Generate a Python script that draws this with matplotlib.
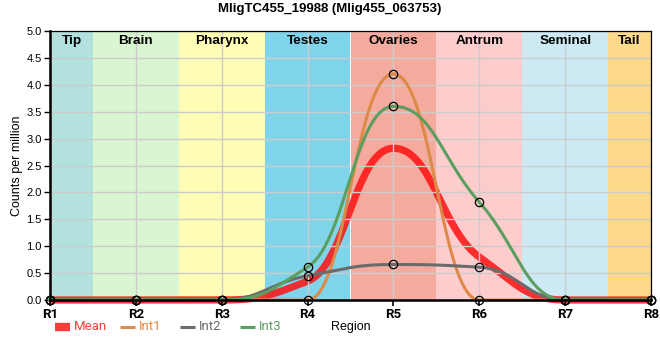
import numpy as np
import matplotlib
matplotlib.use("Agg")
import matplotlib.pyplot as plt
from matplotlib.lines import Line2D

# expression of MligTC455_19988 along the body regions
regions = ["R1", "R2", "R3", "R4", "R5", "R6", "R7", "R8"]
mean = [0, 0, 0, 0.35, 2.82, 0.8, 0, 0]
int1 = [0, 0, 0, 0, 4.2, 0, 0, 0]
int2 = [0, 0, 0, 0.45, 0.66, 0.61, 0, 0]
int3 = [0, 0, 0, 0.61, 3.6, 1.82, 0, 0]

band_names = ["Tip", "Brain", "Pharynx", "Testes", "Ovaries", "Antrum", "Seminal", "Tail"]
band_edges = [1, 1.5, 2.5, 3.5, 4.5, 5.5, 6.5, 7.5, 8]
band_colors = ["#b3e2de", "#d9f6d1", "#fdfdb5", "#7fd4ea", "#f4ab9d",
               "#fdcccc", "#cdeaf4", "#fcd98b"]


def smooth(y, a=0.45, n=80):
    # monotone-ish bezier through the points (pchip slopes, long handles)
    y = np.asarray(y, float)
    x = np.arange(1, len(y) + 1, dtype=float)
    d = np.diff(y)
    m = np.zeros_like(y)
    for k in range(1, len(y) - 1):
        if d[k - 1] * d[k] > 0:
            m[k] = 2.0 / (1.0 / d[k - 1] + 1.0 / d[k])
    s = np.linspace(0, 1, n)
    b0 = (1 - s) ** 3
    b1 = 3 * (1 - s) ** 2 * s
    b2 = 3 * (1 - s) * s ** 2
    b3 = s ** 3
    xs, ys = [], []
    for i in range(len(y) - 1):
        px = [x[i], x[i] + a, x[i + 1] - a, x[i + 1]]
        py = [y[i], y[i] + a * m[i], y[i + 1] - a * m[i + 1], y[i + 1]]
        xs.append(b0 * px[0] + b1 * px[1] + b2 * px[2] + b3 * px[3])
        ys.append(b0 * py[0] + b1 * py[1] + b2 * py[2] + b3 * py[3])
    return np.concatenate(xs), np.concatenate(ys)


fig = plt.figure(figsize=(6.6, 3.6), dpi=100)
ax = fig.add_axes([50 / 660, 1 - 300 / 360, 601 / 660, 269 / 360])

for i in range(len(band_names)):
    ax.axvspan(band_edges[i], band_edges[i + 1], color=band_colors[i], lw=0, zorder=0)
    ax.text((band_edges[i] + band_edges[i + 1]) / 2, 0.985, band_names[i],
            transform=ax.get_xaxis_transform(), ha="center", va="top",
            fontsize=9.7, fontweight="bold", family="Liberation Sans", zorder=3)

ax.grid(True, color="#cccccc", lw=1.0, zorder=1)
ax.set_axisbelow(False)
for gl in ax.get_xgridlines() + ax.get_ygridlines():
    gl.set_zorder(1)

xpos = np.arange(1, len(regions) + 1)

mx, my = smooth(mean)
ax.plot(mx, my, color="#ff1111", alpha=0.85, lw=5.2, zorder=2, clip_on=False,
        solid_capstyle="butt")

series = [(int1, "#dd8a48"), (int2, "#6b6b6b"), (int3, "#5c9e60")]
for vals, col in series:
    sx, sy = smooth(vals)
    ax.plot(sx, sy, color=col, lw=2.2, zorder=3, clip_on=False)
for vals, col in series:
    ax.plot(xpos, vals, "o", ms=6, mfc="none", mec="black", mew=0.9,
            zorder=6, clip_on=False)

ax.set_xlim(1, 8)
ax.set_ylim(0, 5)
ax.set_xticks(xpos)
ax.set_xticklabels(regions, fontsize=9.5, fontweight="bold", family="Roboto")
ax.set_yticks(np.arange(0, 5.01, 0.5))
ax.set_yticklabels(["%.1f" % v for v in np.arange(0, 5.01, 0.5)],
                   fontsize=8, family="Liberation Sans")
ax.tick_params(axis="x", direction="out", length=4, width=1.2, pad=2)
ax.tick_params(axis="y", direction="out", length=4, width=1.0, pad=2)

for side in ["left", "bottom"]:
    ax.spines[side].set_linewidth(1.8)
    ax.spines[side].set_zorder(5)
for side in ["top", "right"]:
    ax.spines[side].set_linewidth(0.9)
    ax.spines[side].set_zorder(5)

ax.set_ylabel("Counts per million", fontsize=9, family="Liberation Sans")
ax.yaxis.set_label_coords((17 - 50) / 601, 0.5)
ax.yaxis.label.set_va("center")
ax.set_xlabel("Region", fontsize=9, family="Liberation Sans")
ax.xaxis.set_label_coords(0.5, (300 - 327) / 269)
ax.xaxis.label.set_va("center")

fig.text(0.5, 1 - 9 / 360, "MligTC455_19988 (Mlig455_063753)", ha="center",
         va="center", fontsize=9.5, fontweight="bold", family="Liberation Sans")

# legend under the axes
leg_items = [("Mean", "#ff3b3b", 6.0, 55), ("Int1", "#dd8a48", 2.2, 120),
             ("Int2", "#6b6b6b", 2.2, 180), ("Int3", "#5c9e60", 2.2, 240)]
ly = 1 - 327 / 360
for name, col, lw, x0 in leg_items:
    fig.add_artist(Line2D([x0 / 660, (x0 + 15) / 660], [ly, ly], color=col,
                          lw=lw, solid_capstyle="butt"))
    fig.text((x0 + 19) / 660, ly, name, color=col, fontsize=9.5,
             family="Roboto", ha="left", va="center")

fig.savefig("out.png", dpi=100)
